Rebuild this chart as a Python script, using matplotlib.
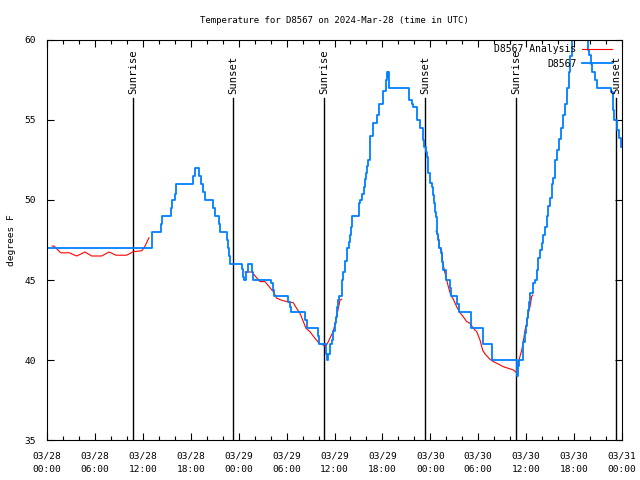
import matplotlib
matplotlib.use('Agg')
import matplotlib.pyplot as plt
import numpy as np

plt.rcParams['font.family'] = ['DejaVu Sans Mono']

# observed temperature (hours since 03/28 00:00 UTC, deg F), step changes
obs_hours = [0.0, 13.19, 14.24, 14.36, 15.49, 15.61, 16.03, 16.15, 18.32, 18.53,
             19.07, 19.25, 19.57, 19.78, 20.75, 21.0, 21.54, 21.7, 22.5, 22.66,
             22.83, 22.92, 24.38, 24.58, 24.63, 24.88, 25.13, 25.71, 25.83, 28.05,
             28.26, 28.39, 30.22, 30.39, 30.52, 32.34, 32.52, 33.97, 34.1, 34.94,
             35.1, 35.22, 35.44, 35.65, 35.85, 36.06, 36.23, 36.35, 36.48, 36.56,
             36.9, 37.1, 37.32, 37.53, 37.82, 37.94, 38.07, 38.23, 39.1, 39.23,
             39.48, 39.67, 39.86, 39.98, 40.03, 40.24, 40.45, 40.48, 40.86, 41.29,
             41.61, 42.11, 42.41, 42.54, 42.66, 42.74, 42.82, 45.37, 45.67, 45.87,
             46.29, 46.36, 46.71, 47.04, 47.12, 47.25, 47.42, 47.55, 47.67, 47.75,
             47.96, 48.17, 48.3, 48.46, 48.58, 48.71, 48.8, 48.87, 49.0, 49.12,
             49.3, 49.5, 49.62, 49.92, 50.46, 50.59, 51.3, 51.63, 53.06, 54.56,
             55.76, 58.81, 58.94, 59.1, 59.64, 59.86, 59.98, 60.14, 60.27, 60.39,
             60.52, 60.89, 61.11, 61.32, 61.52, 61.73, 61.95, 62.15, 62.36, 62.57,
             62.77, 62.99, 63.2, 63.4, 63.61, 63.82, 64.11, 64.36, 64.61, 64.86,
             65.11, 65.36, 65.55, 65.74, 65.99, 67.58, 67.78, 67.93, 68.08, 68.21,
             68.62, 68.83, 70.62, 70.84, 70.91, 71.0, 71.41, 71.66, 71.84, 72.0]
obs_temp = [47.0, 48.0, 48.5, 49.0, 49.5, 50.0, 50.4, 51.0, 51.5, 52.0,
            51.5, 51.0, 50.5, 50.0, 49.5, 49.0, 48.5, 48.0, 47.5, 47.0,
            46.5, 46.0, 45.7, 45.2, 45.0, 45.5, 46.0, 45.5, 45.0, 44.8,
            44.4, 44.0, 43.6, 43.3, 43.0, 42.5, 42.0, 41.5, 41.0, 40.4,
            40.0, 40.4, 41.0, 41.25, 41.8, 42.3, 42.7, 43.3, 43.75, 44.0,
            45.0, 45.5, 46.2, 47.0, 47.4, 47.8, 48.3, 49.0, 49.8, 50.0,
            50.4, 50.8, 51.3, 51.7, 52.1, 52.5, 52.8, 54.0, 54.8, 55.3,
            56.0, 56.8, 57.5, 58.0, 57.7, 58.0, 57.0, 56.25, 56.0, 55.8,
            55.4, 55.0, 54.5, 54.06, 53.75, 53.33, 53.0, 52.7, 52.0, 51.67,
            51.04, 50.8, 50.3, 49.8, 49.27, 48.96, 48.5, 47.9, 47.5, 47.0,
            46.67, 46.14, 45.6, 45.0, 44.5, 44.0, 43.5, 43.0, 42.0, 41.0,
            40.0, 39.0, 39.6, 40.0, 41.1, 41.7, 42.1, 42.6, 43.1, 43.6,
            44.2, 44.8, 45.0, 45.6, 46.35, 46.9, 47.3, 47.8, 48.3, 49.0,
            49.6, 50.1, 51.0, 51.35, 52.5, 53.1, 53.8, 54.5, 55.3, 56.0,
            57.0, 58.0, 59.0, 60.2, 61.0, 60.4, 59.4, 59.06, 58.5, 58.0,
            57.5, 57.0, 56.77, 56.25, 55.6, 55.0, 54.4, 53.9, 53.3, 53.3]

# analysis (three night-time segments, NaN = gap)
ana_hours = [0.66, 0.88, 1.72, 2.79, 3.72, 4.76, 5.6, 6.85, 7.76, 8.64, 9.98,
             10.81, 11.86, 12.15, 12.77, 12.8,
             24.79, 25.63, 26.67, 27.29, 28.34, 28.76, 29.59, 30.84, 31.26, 31.68,
             32.43, 32.93, 33.56, 34.1, 34.6, 34.85, 35.22, 35.85, 35.98, 36.48,
             36.69, 36.9, 36.95,
             48.71, 49.0, 49.12, 49.42, 49.55, 49.75, 50.05, 50.25, 50.55, 50.88,
             51.3, 51.72, 52.13, 52.55, 52.97, 53.38, 53.81, 54.22, 54.56, 54.85,
             55.47, 55.89, 56.51, 57.14, 57.76, 58.39, 58.81, 59.1, 59.44, 59.64,
             59.86, 60.07, 60.27, 60.48, 60.69, 60.82]
ana_temp = [47.12, 47.12, 46.7, 46.7, 46.5, 46.75, 46.5, 46.5, 46.75, 46.55, 46.55,
            46.77, 46.83, 47.0, 47.64, np.nan,
            45.5, 45.5, 44.9, 44.9, 44.27, 43.86, 43.7, 43.58, 43.23, 42.92,
            41.98, 41.77, 41.35, 41.04, 40.94, 40.8, 41.14, 41.8, 42.08, 43.23,
            43.75, 43.8, np.nan,
            48.06, 47.8, 47.08, 46.83, 46.14, 45.6, 45.0, 44.58, 44.06, 43.8,
            43.33, 42.96, 42.7, 42.4, 42.3, 41.98, 41.77, 41.25, 40.6, 40.38,
            40.04, 39.9, 39.75, 39.58, 39.48, 39.38, 39.2, 40.0, 40.6, 41.14,
            41.88, 42.3, 42.92, 43.33, 43.96, 44.06]

sun_hours = [10.77, 23.29, 34.68, 47.34, 58.73, 71.24]
sun_labels = ['Sunrise', 'Sunset', 'Sunrise', 'Sunset', 'Sunrise', 'Sunset']

tick_hours = list(range(0, 73, 6))
tick_labels = ['03/28\n00:00', '03/28\n06:00', '03/28\n12:00', '03/28\n18:00',
               '03/29\n00:00', '03/29\n06:00', '03/29\n12:00', '03/29\n18:00',
               '03/30\n00:00', '03/30\n06:00', '03/30\n12:00', '03/30\n18:00',
               '03/31\n00:00']

fig = plt.figure(figsize=(6.4, 4.8), dpi=100)
ax = fig.add_axes([47/640, 40/480, 575/640, 400/480])
fs = 6.8

for h, lab in zip(sun_hours, sun_labels):
    ax.plot([h, h], [35, 56.4], color='black', lw=1)
    ax.text(h, 56.6, lab, rotation=90, ha='center', va='bottom', fontsize=7.6)

ax.plot(ana_hours, ana_temp, color='red', lw=0.8, label='D8567 Analysis')
ax.plot(obs_hours, obs_temp, color='#0080ff', lw=1.3, drawstyle='steps-post', label='D8567')

ax.set_xlim(0, 72)
ax.set_ylim(35, 60)
ax.set_xticks(tick_hours)
ax.set_xticklabels(tick_labels, fontsize=fs, linespacing=1.75)
ax.set_xticks(np.arange(0, 73, 2), minor=True)
ax.set_yticks([35, 40, 45, 50, 55, 60])
ax.tick_params(axis='y', labelsize=fs, pad=8)
ax.tick_params(which='both', direction='in', top=True, right=True, width=0.8)
ax.tick_params(which='major', length=5)
ax.tick_params(which='minor', length=3)
ax.tick_params(axis='x', pad=8)
for s in ax.spines.values():
    s.set_linewidth(0.8)

ax.set_ylabel('degrees F', fontsize=fs, labelpad=6)
ax.set_title('Temperature for D8567 on 2024-Mar-28 (time in UTC)', fontsize=6.5, pad=12)

ax.legend(loc='upper right', frameon=False, fontsize=7.0, markerfirst=False,
          handlelength=3.0, labelspacing=0.5, borderaxespad=0.0,
          borderpad=0.0, handletextpad=0.6, bbox_to_anchor=(0.982, 0.99))

fig.savefig('out.png', dpi=100)
